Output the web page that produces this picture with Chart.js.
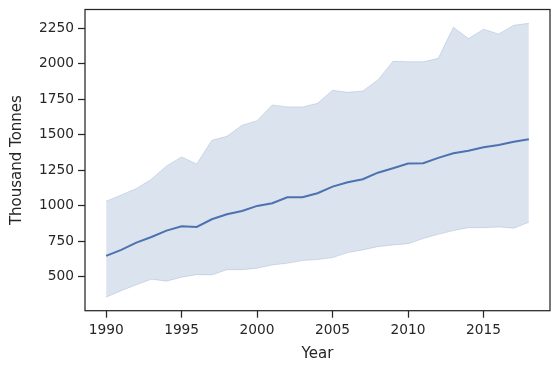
<!DOCTYPE html>
<html>
<head>
<meta charset="utf-8">
<script src="https://cdn.jsdelivr.net/npm/chart.js@4"></script>
<style>
  html, body { margin: 0; padding: 0; background: #fff; }
  #wrap { width: 560px; height: 373px; }
</style>
</head>
<body>
<div id="wrap"><canvas id="chart"></canvas></div>
<script>
// data
const years = [1990, 1991, 1992, 1993, 1994, 1995, 1996, 1997, 1998, 1999,
               2000, 2001, 2002, 2003, 2004, 2005, 2006, 2007, 2008, 2009,
               2010, 2011, 2012, 2013, 2014, 2015, 2016, 2017, 2018];
const meanVals = [646, 688, 739, 779, 824, 855, 850, 904, 939, 962,
                  998, 1017, 1059, 1059, 1087, 1134, 1164, 1186, 1232, 1263,
                  1296, 1298, 1336, 1369, 1387, 1411, 1427, 1450, 1467];
const upperVals = [1031, 1075, 1120, 1186, 1279, 1343, 1293, 1460, 1488, 1566,
                   1598, 1709, 1695, 1695, 1720, 1812, 1798, 1807, 1885, 2016,
                   2013, 2013, 2037, 2256, 2176, 2242, 2209, 2270, 2284];
const lowerVals = [355, 401, 442, 482, 468, 496, 514, 512, 549, 549,
                   559, 582, 594, 613, 620, 634, 669, 688, 711, 723,
                   732, 768, 798, 824, 845, 845, 850, 841, 883];
const xTicks = [1990, 1995, 2000, 2005, 2010, 2015];
const yTicks = [500, 750, 1000, 1250, 1500, 1750, 2000, 2250];

const blue = '#4c72b0';
const band = 'rgba(76, 114, 176, 0.2)';
const ink = '#262626';

const pts = vals => years.map((y, i) => ({ x: y, y: vals[i] }));

// full box round the plot area
const frame = {
    id: 'frame',
    afterDraw(chart) {
        const { ctx, chartArea: a } = chart;
        ctx.save();
        ctx.strokeStyle = ink;
        ctx.lineWidth = 1.25;
        ctx.strokeRect(a.left, a.top, a.right - a.left, a.bottom - a.top);
        ctx.restore();
    }
};

const noPad = s => { s.paddingTop = 0; s.paddingBottom = 0; s.paddingLeft = 0; s.paddingRight = 0; };

new Chart(document.getElementById('chart'), {
    type: 'line',
    data: {
        datasets: [
            { data: pts(meanVals), borderColor: blue, borderWidth: 2, pointRadius: 0, fill: false },
            { data: pts(upperVals), borderColor: band, borderWidth: 1, pointRadius: 0, backgroundColor: band, fill: '+1' },
            { data: pts(lowerVals), borderColor: band, borderWidth: 1, pointRadius: 0, fill: false }
        ]
    },
    options: {
        responsive: true,
        maintainAspectRatio: false,
        animation: false,
        layout: { padding: { top: 9.5, right: 10, left: 0, bottom: 0 } },
        plugins: { legend: { display: false }, tooltip: { enabled: false } },
        scales: {
            x: {
                type: 'linear',
                min: 1988.6,
                max: 2019.4,
                afterBuildTicks: s => { s.ticks = xTicks.map(v => ({ value: v })); },
                afterFit: s => { s.height = 62.3; noPad(s); },
                grid: { drawOnChartArea: false, tickLength: 7, tickWidth: 1.25, tickColor: ink },
                border: { display: false },
                ticks: { color: ink, padding: 4, maxRotation: 0, font: { family: 'DejaVu Sans', size: 13.75 }, callback: v => String(v) },
                title: { display: true, text: 'Year', color: ink, padding: { top: 0, bottom: 10 }, font: { family: 'DejaVu Sans', size: 15 } }
            },
            y: {
                min: 260,
                max: 2381,
                afterBuildTicks: s => { s.ticks = yTicks.map(v => ({ value: v })); },
                afterFit: s => { s.width = 85; noPad(s); },
                grid: { drawOnChartArea: false, tickLength: 7, tickWidth: 1.25, tickColor: ink },
                border: { display: false },
                ticks: { color: ink, padding: 4, font: { family: 'DejaVu Sans', size: 13.75 }, callback: v => String(v) },
                title: { display: true, text: 'Thousand Tonnes', color: ink, padding: { top: 8, bottom: 0 }, font: { family: 'DejaVu Sans', size: 15 } }
            }
        }
    },
    plugins: [frame]
});
</script>
</body>
</html>
